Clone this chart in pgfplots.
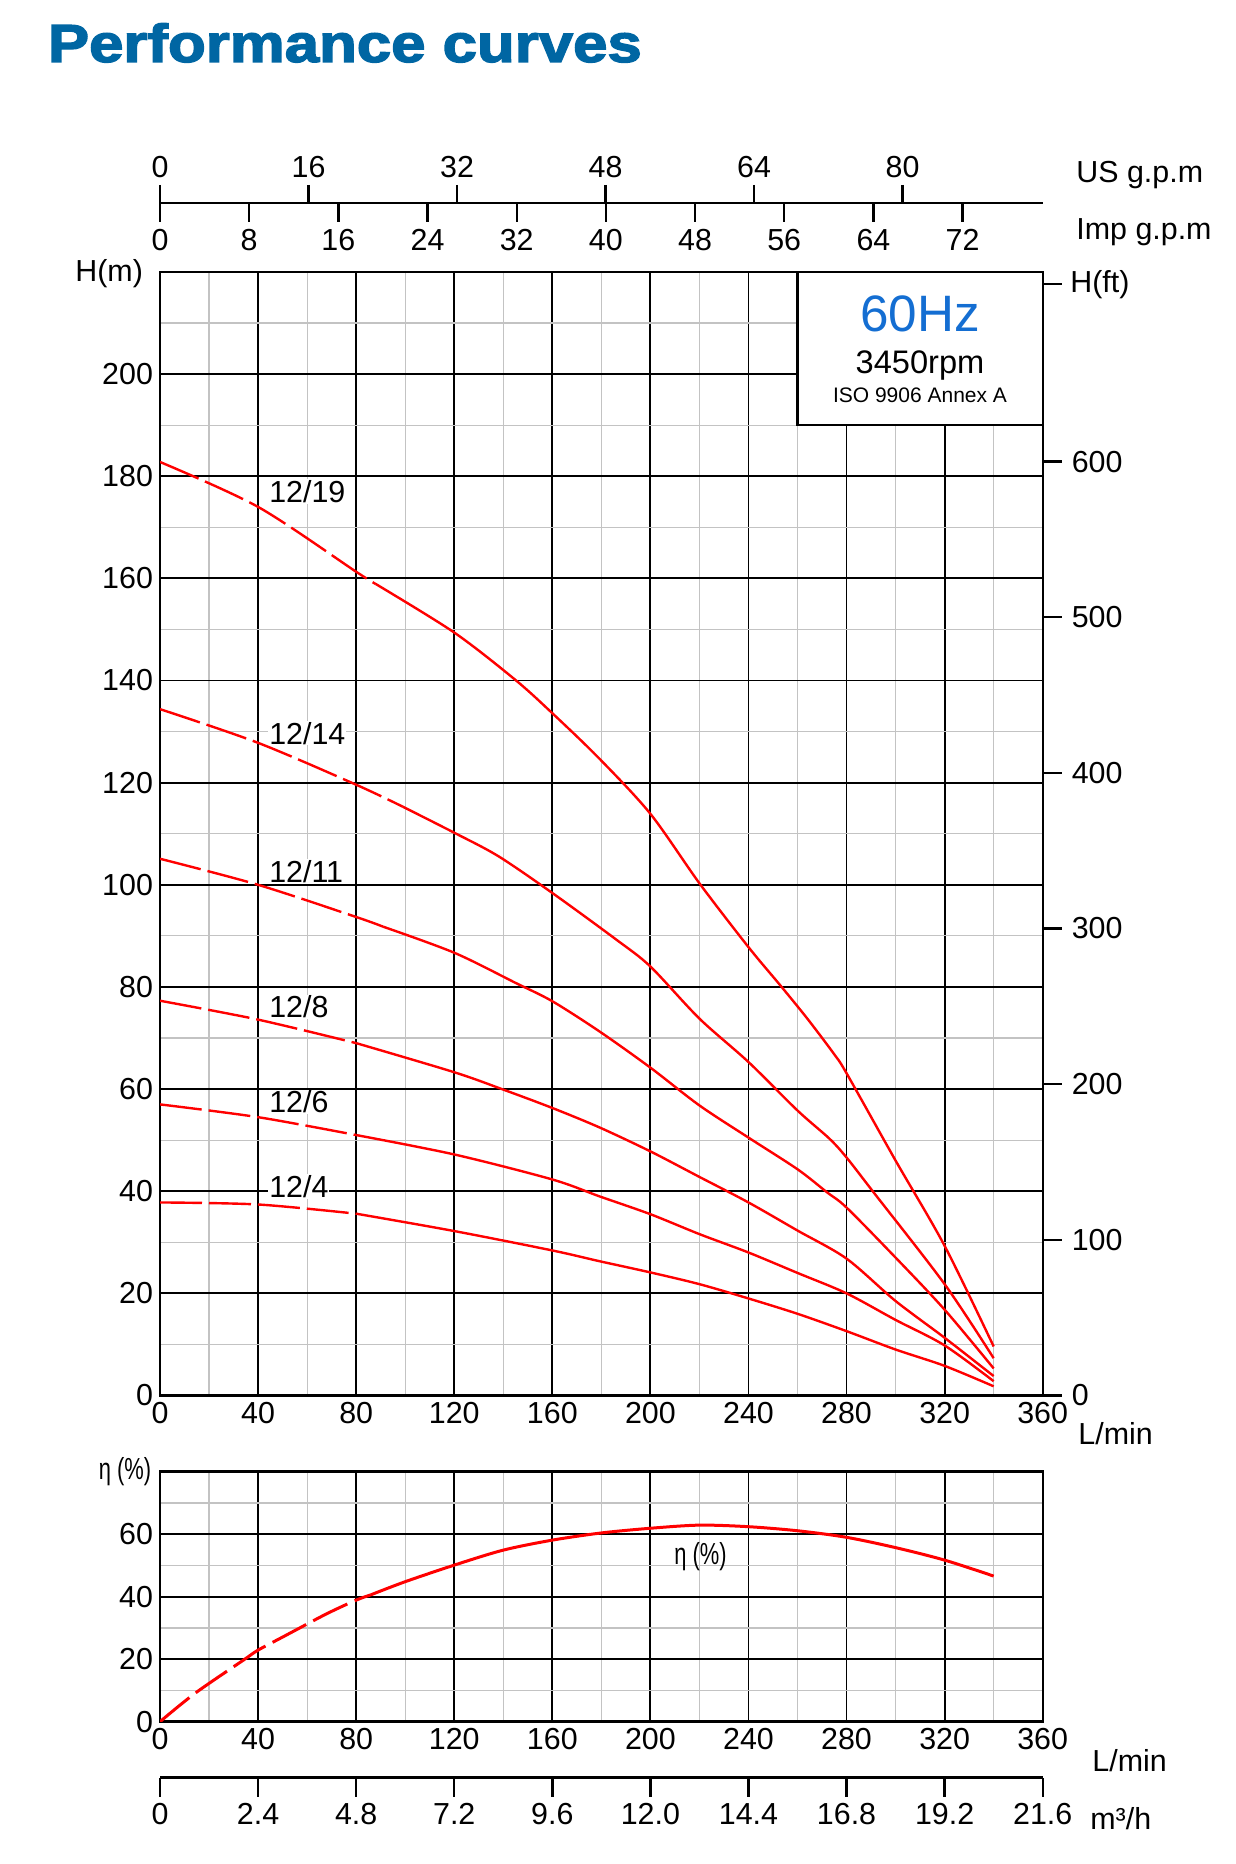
\documentclass[border=0pt]{standalone}
\usepackage{fontspec}
\setmainfont{Liberation Sans}
\newfontfamily\heavy[FakeBold=2.5]{Liberation Sans Bold}
\usepackage{graphicx}
\usepackage{pgfplots}
\pgfplotsset{compat=1.18}
\definecolor{titleblue}{RGB}{0,102,163}
\definecolor{hzblue}{RGB}{20,110,210}
\definecolor{gridgray}{RGB}{195,195,195}
\definecolor{cred}{RGB}{255,0,0}
\newcommand\tf{\fontsize{15.2pt}{18pt}\selectfont}
\tikzset{clab/.style={anchor=west, fill=white, inner sep=0.5pt, font=\tf}}
\pgfplotsset{
  base/.style={scale only axis, width=441.35pt,
    /pgf/number format/assume math mode=true,
    tick label style={font=\tf, text=black},
    axis line style={line width=1.2pt,-}},
  gridded/.style={grid=both,
    major grid style={black,line width=0.9pt},
    minor grid style={gridgray,line width=0.6pt},
    major tick length=0pt, minor tick length=0pt},
  dcurve/.style={cred, line width=1.2pt, smooth, tension=0.5, dash pattern=on 21pt off 3.5pt},
  scurve/.style={cred, line width=1.2pt, smooth, tension=0.5},
}
\begin{document}
\begin{tikzpicture}
\path[use as bounding box] (0,0) rectangle (618pt,932pt);

% ---------- main H axis ----------
\begin{axis}[base, gridded, at={(80pt,234.25pt)}, anchor=south west, height=561.75pt,
  xmin=0, xmax=360, ymin=0, ymax=220,
  xtick={0,40,...,360}, ytick={0,20,...,200},
  minor xtick={20,60,...,340}, minor ytick={10,30,...,210},
  xtick pos=bottom, ytick pos=left]
% 12/19
\addplot[dcurve] coordinates {(0,182.8)(40,174)(80,161.3)(88,158.9)};
\addplot[scurve] coordinates {(88,158.9)(120,149.4)(145,140.1)(160,133.6)(179,124.8)(200,113.9)(220,100.3)(240,87.8)(253,80.3)(264,73.8)(275,66.8)(280,63.1)(300,46)(320,29.3)(340,9.6)};
% 12/14
\addplot[dcurve] coordinates {(0,134.4)(40,127.8)(80,119.6)(99,115.3)};
\addplot[scurve] coordinates {(99,115.3)(120,110.2)(138,105.6)(160,98.4)(186,89.3)(200,84)(220,73.8)(240,65.3)(260,55.8)(273,50.3)(280,46.6)(291,39.8)(320,21.8)(340,7.3)};
% 12/11
\addplot[dcurve] coordinates {(0,105.1)(40,100)(80,93.7)(91,91.8)};
\addplot[scurve] coordinates {(91,91.8)(120,86.7)(145,80.8)(160,77.2)(179.2,71.3)(200,64.2)(220,56.8)(240,50.5)(260,44.3)(272,39.8)(280,36.8)(300,27)(320,16.8)(340,5.3)};
% 12/8
\addplot[dcurve] coordinates {(0,77.3)(40,73.6)(80,69)};
\addplot[scurve] coordinates {(80,69)(120,63.3)(140,59.9)(160,56.3)(179.2,52.5)(200,47.8)(220,42.8)(240,37.8)(260,32.3)(280,26.8)(300,18.5)(320,11.3)(340,3.8)};
% 12/6
\addplot[dcurve] coordinates {(0,57)(40,54.5)(80,51)};
\addplot[scurve] coordinates {(80,51)(120,47.2)(160,42.3)(179.2,39)(200,35.5)(220,31.6)(240,28)(260,24)(280,20)(300,14.8)(320,9.8)(340,2.8)};
% 12/4
\addplot[dcurve] coordinates {(0,37.8)(40,37.4)(80,35.6)};
\addplot[scurve] coordinates {(80,35.6)(120,32.2)(160,28.4)(179.2,26.3)(200,24.1)(220,21.8)(240,19)(260,16)(280,12.6)(300,9)(320,5.8)(340,1.8)};
\node[clab] at (axis cs:44,177) {12/19};
\node[clab] at (axis cs:44,129.7) {12/14};
\node[clab] at (axis cs:44,102.6) {12/11};
\node[clab] at (axis cs:44,76.1) {12/8};
\node[clab] at (axis cs:44,57.5) {12/6};
\node[clab] at (axis cs:44,40.9) {12/4};
\draw[line width=1.2pt, fill=white] (axis cs:260,190) rectangle (axis cs:360,220);
\end{axis}

% ---------- right H(ft) axis ----------
\begin{axis}[base, at={(80pt,234.25pt)}, anchor=south west, height=561.75pt,
  xmin=0, xmax=360, ymin=0, ymax=721.78,
  hide x axis, axis y line*=right,
  ytick={0,100,...,600}, extra y ticks={714}, extra y tick labels={},
  tick align=outside, major tick length=9.5pt,
  tick style={black,line width=1.2pt},
  yticklabel style={xshift=1.5pt}]
\end{axis}

% ---------- efficiency axis ----------
\begin{axis}[base, gridded, at={(80pt,71.15pt)}, anchor=south west, height=125pt,
  xmin=0, xmax=360, ymin=0, ymax=80,
  xtick={0,40,...,360}, ytick={0,20,40,60},
  minor xtick={20,60,...,340}, minor ytick={10,30,50,70},
  xtick pos=bottom, ytick pos=left]
\addplot[cred, line width=1.5pt, smooth, tension=0.5, dash pattern=on 19pt off 4pt] coordinates {(0,0)(14.3,9.1)(34,19.7)(40,22.9)(50.3,27.2)(67.9,34.5)(80,38.9)(86,40.6)};
\addplot[cred, line width=1.5pt, smooth, tension=0.5] coordinates {(86,40.6)(100,44.8)(120,50.1)(140,54.9)(160,58.1)(180,60.4)(200,61.9)(220,62.9)(240,62.4)(260,61.1)(280,59)(300,55.7)(320,51.7)(340,46.6)};
\node[anchor=west, inner sep=0pt, font=\tf] at (axis cs:209.6,52.8) {\scalebox{0.72}[1]{η (\%)}};
\end{axis}

% ---------- m3/h axis ----------
\begin{axis}[base, at={(80pt,43.15pt)}, anchor=south west, height=5pt,
  xmin=0, xmax=21.6, ymin=0, ymax=1,
  hide y axis, axis x line*=bottom,
  xtick={0,2.4,4.8,7.2,9.6,12,14.4,16.8,19.2,21.6},
  xticklabels={0,2.4,4.8,7.2,9.6,12.0,14.4,16.8,19.2,21.6},
  tick align=outside, major tick length=9.5pt,
  tick style={black,line width=1.2pt}]
\end{axis}

% ---------- Imp g.p.m axis ----------
\begin{axis}[base, at={(80pt,830.5pt)}, anchor=south west, height=5pt,
  xmin=0, xmax=79.19, ymin=0, ymax=1,
  hide y axis, axis x line*=bottom,
  xtick={0,8,...,72},
  tick align=outside, major tick length=9.5pt,
  tick style={black,line width=1.2pt}]
\end{axis}

% ---------- US g.p.m axis ----------
\begin{axis}[base, at={(80pt,830.5pt)}, anchor=north west, height=5pt,
  xmin=0, xmax=95.10, ymin=0, ymax=1,
  hide y axis, axis x line*=top,
  xtick={0,16,...,80},
  tick align=outside, major tick length=9pt,
  tick style={black,line width=1.2pt}]
\end{axis}

% ---------- texts ----------
\begin{scope}[x=0.5pt,y=-0.5pt,yshift=932pt]
\node[anchor=base west, inner sep=0pt, text=titleblue] at (47.5,62) {\resizebox{297pt}{19.4pt}{\heavy Performance curves}};
\node[anchor=base west, inner sep=0pt, font=\tf] at (1076,183) {US g.p.m};
\node[anchor=base west, inner sep=0pt, font=\tf] at (1076,240) {Imp g.p.m};
\node[anchor=base west, inner sep=0pt, font=\tf] at (75,282) {H(m)};
\node[anchor=base west, inner sep=0pt, font=\tf] at (1070,293) {H(ft)};
\node[anchor=base west, inner sep=0pt, font=\tf] at (1078,1445) {L/min};
\node[anchor=base west, inner sep=0pt, font=\tf] at (1092,1772) {L/min};
\node[anchor=base west, inner sep=0pt, font=\tf] at (1090,1830) {m³/h};
\node[anchor=center, inner sep=0pt, font=\tf] at (125,1472) {\scalebox{0.72}[1]{η (\%)}};
\node[anchor=base, inner sep=0pt, text=hzblue, font=\fontsize{25.6pt}{30pt}\selectfont] at (920,331.7) {60Hz};
\node[anchor=base, inner sep=0pt, font=\fontsize{16.3pt}{19pt}\selectfont] at (920,373.3) {3450rpm};
\node[anchor=base, inner sep=0pt, font=\fontsize{10.5pt}{12pt}\selectfont] at (920,402.7) {ISO 9906 Annex A};
\end{scope}
\end{tikzpicture}
\end{document}
